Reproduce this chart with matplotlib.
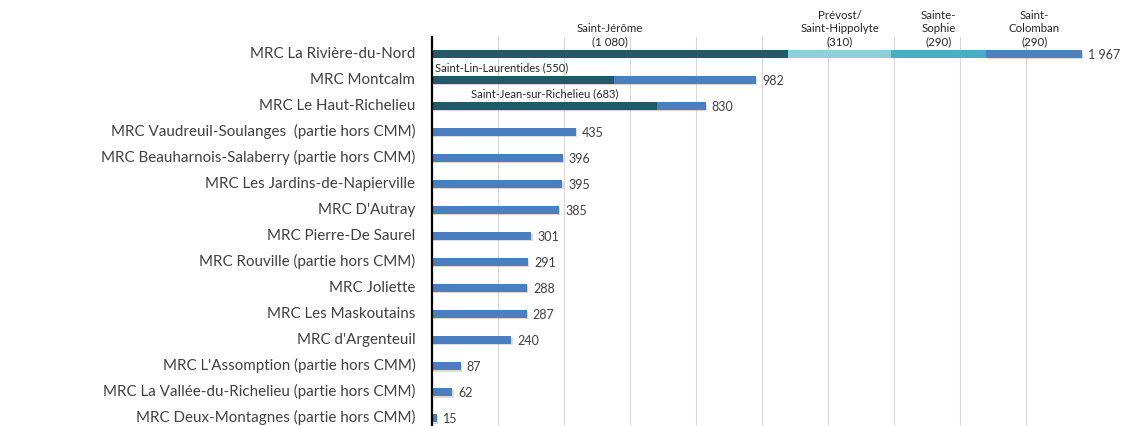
import matplotlib
matplotlib.use("Agg")
import matplotlib.pyplot as plt
import matplotlib.patheffects as pe
import matplotlib.transforms as mtransforms

plt.rcParams['font.family'] = ['Lato', 'DejaVu Sans']

mrc = ["MRC La Rivière-du-Nord", "MRC Montcalm", "MRC Le Haut-Richelieu",
       "MRC Vaudreuil-Soulanges  (partie hors CMM)",
       "MRC Beauharnois-Salaberry (partie hors CMM)",
       "MRC Les Jardins-de-Napierville", "MRC D'Autray", "MRC Pierre-De Saurel",
       "MRC Rouville (partie hors CMM)", "MRC Joliette", "MRC Les Maskoutains",
       "MRC d'Argenteuil", "MRC L'Assomption (partie hors CMM)",
       "MRC La Vallée-du-Richelieu (partie hors CMM)",
       "MRC Deux-Montagnes (partie hors CMM)"]
totals = [1967, 982, 830, 435, 396, 395, 385, 301, 291, 288, 287, 240, 87, 62, 15]
total_labels = ["1 967", "982", "830", "435", "396", "395", "385", "301", "291",
                "288", "287", "240", "87", "62", "15"]

# Rivière-du-Nord split by municipality
rdn_names = ["Saint-Jérôme\n(1 080)", "Prévost/\nSaint-Hippolyte\n(310)",
             "Sainte-\nSophie\n(290)", "Saint-\nColomban\n(290)"]
rdn_values = [1080, 310, 290, 290]
rdn_colors = ["#215968", "#92CDDC", "#4BACC6", "#4F81BD"]

# main city inside the other two MRC
city_rows = [1, 2]
city_values = [550, 683]
city_labels = ["Saint-Lin-Laurentides (550)", "Saint-Jean-sur-Richelieu (683)"]

dark = "#215968"
blue = "#4A7EBF"
h = 0.3

fig = plt.figure(figsize=(11.22, 4.27), dpi=100)
ax = fig.add_axes([432 / 1122, 0, 660 / 1122, 389 / 427])

shadow = [pe.SimplePatchShadow(offset=(1, -1.2), shadow_rgbFace="#888888", alpha=0.3), pe.Normal()]

for i, v in enumerate(totals):
    if i == 0:
        continue
    ax.barh(i, v, height=h, color=blue, path_effects=shadow, zorder=3)

for row, v in zip(city_rows, city_values):
    ax.barh(row, v, height=h, color=dark, zorder=4)

left = 0
for name, v, c in zip(rdn_names, rdn_values, rdn_colors):
    ax.barh(0, v, left=left, height=h, color=c, zorder=3,
            path_effects=shadow if c == rdn_colors[-1] else None)
    ax.text(left + v / 2, -0.28, name, ha="center", va="bottom", fontsize=8.3,
            color="#262626", linespacing=1.25, clip_on=False)
    left += v

ax.text(8, 1 - 0.3, city_labels[0], ha="left", va="bottom", fontsize=8, color="#262626")
ax.text(city_values[1] / 2, 2 - 0.3, city_labels[1], ha="center", va="bottom",
        fontsize=8, color="#262626")

for i, (v, lab) in enumerate(zip(totals, total_labels)):
    x = max(v, sum(rdn_values)) if i == 0 else v
    ax.text(x + 18, i, lab, ha="left", va="center", fontsize=9, color="#404040", clip_on=False)

ax.set_yticks(range(len(mrc)))
ax.set_yticklabels(mrc, fontsize=10.9, color="#404040")
ax.tick_params(axis="y", length=0, pad=12)
up = mtransforms.ScaledTranslation(0, 2.5 / 100, fig.dpi_scale_trans)
for t in ax.get_yticklabels():
    t.set_transform(t.get_transform() + up)
ax.set_xticks([])
for x in range(200, 2001, 200):
    ax.axvline(x, color="#D9D9D9", lw=0.8, zorder=1)

ax.set_xlim(0, 2000)
ax.set_ylim(14.31, -0.65)
for s in ["top", "right", "bottom"]:
    ax.spines[s].set_visible(False)
ax.spines["left"].set_linewidth(1.6)
ax.spines["left"].set_color("black")
ax.spines["left"].set_zorder(5)

fig.savefig("out.png", dpi=100, facecolor="white")
